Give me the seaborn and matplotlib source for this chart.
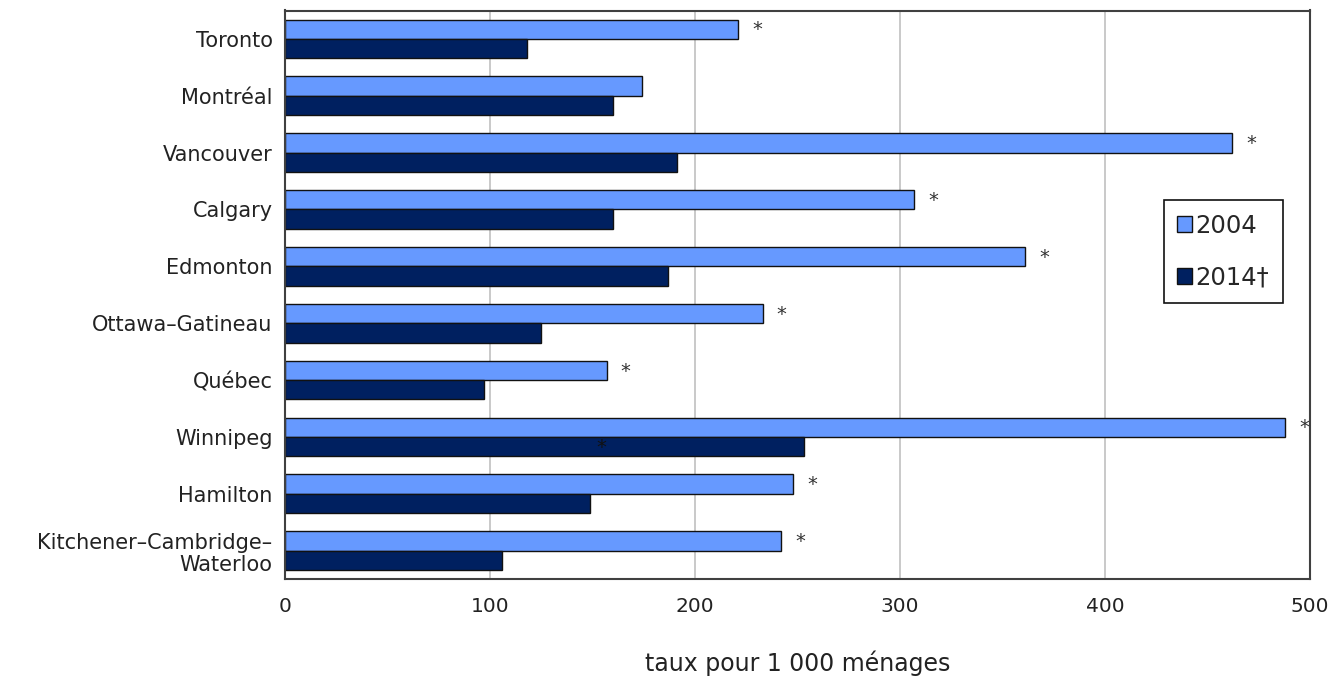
import matplotlib
matplotlib.use("Agg")
import matplotlib.pyplot as plt
import seaborn as sns
import pandas as pd

# ---- data ----
cities = ["Toronto", "Montréal", "Vancouver", "Calgary", "Edmonton",
          "Ottawa–Gatineau", "Québec", "Winnipeg", "Hamilton",
          "Kitchener–Cambridge–\nWaterloo"]
years = ["2004", "2014\u2020"]
v2004 = [221, 174, 462, 307, 361, 233, 157, 488, 248, 242]
v2014 = [118, 160, 191, 160, 187, 125, 97, 253, 149, 106]
sig2004 = [True, False, True, True, True, True, True, True, True, True]
sig2014 = [False, False, False, False, False, False, False, True, False, False]
xticks = [0, 100, 200, 300, 400, 500]
xlabel = "taux pour 1 000 ménages"

colors = ["#6699FF", "#002060"]

df = pd.DataFrame({
    "city": cities * 2,
    "value": v2004 + v2014,
    "year": [years[0]] * len(cities) + [years[1]] * len(cities),
})

sns.set_theme(style="white")
plt.rcParams["font.family"] = ["DejaVu Sans"]

fig = plt.figure(figsize=(13.38, 6.79), dpi=100)
ax = fig.add_axes([285 / 1338, 100 / 679, 1025 / 1338, 568.5 / 679])

sns.barplot(data=df, y="city", x="value", hue="year", orient="h",
            palette=colors, saturation=1, width=0.68, gap=0,
            edgecolor="#111111", linewidth=1.0, ax=ax, legend=True)

ax.set_xlim(0, 500)
ax.set_xticks(xticks)
ax.set_xticklabels([str(t) for t in xticks], fontsize=14.5, color="#222222")
ax.set_yticks(range(len(cities)))
ax.set_yticklabels(cities, fontsize=15, color="#222222", linespacing=1.15,
                   multialignment="right")
ax.set_ylabel("")
ax.set_xlabel(xlabel, fontsize=17, color="#222222", labelpad=25)
ax.tick_params(axis="y", length=0, pad=9)
ax.tick_params(axis="x", length=0, pad=13)

ax.xaxis.grid(True, color="#c0c0c0", linewidth=1.2)
ax.yaxis.grid(False)
ax.set_axisbelow(True)
for s in ax.spines.values():
    s.set_visible(True)
    s.set_color("#404040")
    s.set_linewidth(1.5)

# significance asterisks
c2004, c2014 = ax.containers[0], ax.containers[1]
for bar, flag in zip(c2004, sig2004):
    if flag:
        ax.annotate("*", xy=(bar.get_width(), bar.get_y() + bar.get_height() / 2),
                    xytext=(10, -0.5), textcoords="offset points", ha="left",
                    va="center", fontsize=14, color="#333333")
for bar, flag in zip(c2014, sig2014):
    if flag:
        ax.annotate("*", xy=(bar.get_width() * 0.61, bar.get_y() + bar.get_height() / 2),
                    xytext=(0, -0.5), textcoords="offset points", ha="center",
                    va="center", fontsize=14, color="#111111")

leg = ax.legend(loc="upper left", bbox_to_anchor=(0.8575, 0.666), fontsize=17.5,
                frameon=True, fancybox=False, handlelength=0.6, handleheight=0.6,
                handletextpad=0.15, labelspacing=1.15, borderpad=0.55,
                borderaxespad=0)
leg.get_frame().set_edgecolor("#111111")
leg.get_frame().set_linewidth(1.2)
leg.get_frame().set_alpha(1)

fig.savefig("out.png", dpi=100)
